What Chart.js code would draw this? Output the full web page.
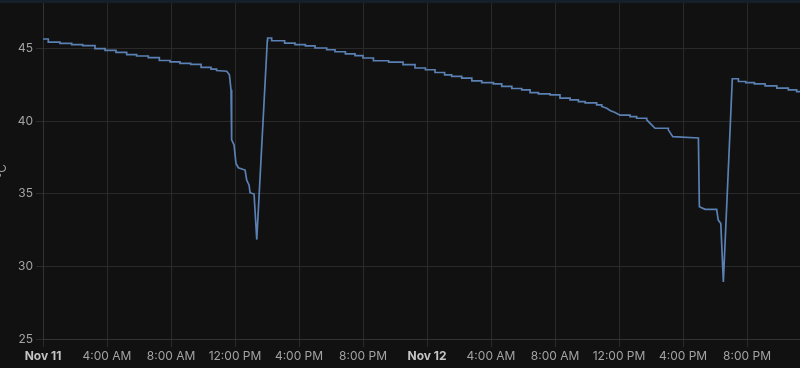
<!DOCTYPE html>
<html>
<head>
<meta charset="utf-8">
<script src="https://cdn.jsdelivr.net/npm/chart.js@4.4.1/dist/chart.umd.min.js"></script>
<style>
  html, body { margin: 0; padding: 0; background: #111111; overflow: hidden; }
  .topbar { height: 3px; background: #16202a; }
  .wrap { position: relative; width: 800px; height: 365px; }
</style>
</head>
<body>
<div class="topbar"></div>
<div class="wrap"><canvas id="tempChart"></canvas></div>
<script>
// -------------------------------
// DATA (hours since Nov 11 00:00, °C)
// -------------------------------
const hours = [
  0, 0.33, 0.33, 1.06, 1.06, 1.79, 1.79, 2.48, 2.48, 3.25, 3.25, 3.88, 3.88, 4.56, 4.56,
  5.23, 5.23, 5.85, 5.85, 6.58, 6.58, 7.27, 7.27, 7.94, 7.94, 8.56, 8.56, 9.23, 9.23,
  9.88, 9.88, 10.5, 10.5, 10.85, 10.85, 11.48,
  11.65, 11.75, 11.79, 11.94, 12.06, 12.21, 12.63, 12.73, 12.88, 12.94, 13.19, 13.36,
  14.02, 14.04, 14.29, 14.29, 15.1, 15.1, 15.75, 15.75, 16.4, 16.4, 17.0, 17.0,
  17.73, 17.73, 18.25, 18.25, 18.9, 18.9, 19.5, 19.5, 20.0, 20.0, 20.65, 20.65,
  21.6, 21.6, 22.5, 22.5, 23.25, 23.25, 23.9, 23.9, 24.5, 24.5, 25.1, 25.1,
  25.54, 25.54, 26.17, 26.17, 26.8, 26.8, 27.42, 27.42, 28.15, 28.15, 28.67, 28.67,
  29.3, 29.3, 29.92, 29.92, 30.44, 30.44, 30.96, 30.96, 31.69, 31.69, 32.31, 32.31,
  32.94, 32.94, 33.46, 33.46, 33.88, 33.88, 34.6, 34.6, 34.92, 34.92,
  35.23, 35.44, 35.75, 36.06, 36.69, 36.69, 37.1, 37.1, 37.73, 37.73, 38.04, 38.25,
  39.08, 39.08, 39.36, 40.96,
  41.02, 41.38, 42.1, 42.2, 42.36, 42.52,
  43.08, 43.46, 43.46, 43.92, 43.92, 44.46, 44.46, 45.13, 45.13, 45.86, 45.86,
  46.58, 46.58, 47.1, 47.1, 47.31
];

const temps = [
  45.67, 45.67, 45.46, 45.46, 45.37, 45.37, 45.28, 45.28, 45.21, 45.21, 45.0, 45.0, 44.88, 44.88, 44.75,
  44.75, 44.59, 44.59, 44.5, 44.5, 44.38, 44.38, 44.19, 44.19, 44.1, 44.1, 43.99, 43.99, 43.92,
  43.92, 43.71, 43.71, 43.6, 43.6, 43.5, 43.45,
  43.2, 42.17, 38.72, 38.37, 37.1, 36.8, 36.64, 35.95, 35.6, 35.08, 34.99, 31.85,
  45.57, 45.74, 45.74, 45.55, 45.55, 45.39, 45.39, 45.28, 45.28, 45.2, 45.2, 45.05,
  45.05, 44.93, 44.93, 44.79, 44.79, 44.65, 44.65, 44.52, 44.52, 44.36, 44.36, 44.17,
  44.17, 44.08, 44.08, 43.9, 43.9, 43.67, 43.67, 43.55, 43.55, 43.36, 43.36, 43.2,
  43.2, 43.09, 43.09, 42.98, 42.98, 42.79, 42.79, 42.67, 42.67, 42.58, 42.58, 42.4,
  42.4, 42.26, 42.26, 42.17, 42.17, 41.98, 41.98, 41.89, 41.89, 41.82, 41.82, 41.6,
  41.6, 41.48, 41.48, 41.36, 41.36, 41.27, 41.27, 41.13, 41.13, 41.02,
  40.9, 40.74, 40.6, 40.42, 40.42, 40.32, 40.32, 40.21, 40.21, 40.1, 39.75, 39.52,
  39.52, 39.41, 38.94, 38.85,
  34.11, 33.93, 33.93, 33.19, 32.96, 28.93,
  42.93, 42.93, 42.74, 42.74, 42.67, 42.67, 42.58, 42.58, 42.44, 42.44, 42.29,
  42.29, 42.17, 42.17, 42.05, 42.05
];

const xTickHours = [0, 4, 8, 12, 16, 20, 24, 28, 32, 36, 40, 44];
const xTickLabels = [
  "Nov 11", "4:00 AM", "8:00 AM", "12:00 PM", "4:00 PM", "8:00 PM",
  "Nov 12", "4:00 AM", "8:00 AM", "12:00 PM", "4:00 PM", "8:00 PM"
];
const yTicks = [25, 30, 35, 40, 45];

// -------------------------------
// CHART
// -------------------------------
const gridColor = "#2a2a2a";
const textColor = "#a3a3a3";

const ctx = document.getElementById("tempChart").getContext("2d");

new Chart(ctx, {
  type: "line",
  data: {
    datasets: [
      {
        label: "Temperature",
        data: hours.map((h, i) => ({ x: h, y: temps[i] })),
        borderColor: "#5a80b4",
        borderWidth: 1.7,
        pointRadius: 0,
        tension: 0,
        fill: false
      }
    ]
  },
  options: {
    responsive: true,
    maintainAspectRatio: false,
    animation: false,
    layout: { padding: 0 },
    plugins: {
      legend: { display: false },
      tooltip: { enabled: false }
    },
    scales: {
      x: {
        type: "linear",
        min: 0,
        max: 47.31,
        afterBuildTicks: (scale) => {
          scale.ticks = xTickHours.map((v) => ({ value: v }));
        },
        afterFit: (scale) => {
          scale.height = 29;
          scale.paddingLeft = 0;
          scale.paddingRight = 0;
        },
        grid: { color: gridColor, tickLength: 8, tickColor: gridColor },
        border: { color: "#333333" },
        ticks: {
          color: (c) => (c.tick && c.tick.value % 24 === 0 ? "#c4c4c4" : textColor),
          font: (c) => ({
            family: "Inter",
            size: 12,
            weight: c.tick && c.tick.value % 24 === 0 ? "bold" : "normal"
          }),
          padding: 2,
          maxRotation: 0,
          autoSkip: false,
          callback: (value, index) => xTickLabels[index]
        }
      },
      y: {
        min: 25,
        max: 48.15,
        afterBuildTicks: (scale) => {
          scale.ticks = yTicks.map((v) => ({ value: v }));
        },
        afterFit: (scale) => {
          scale.width = 43;
          scale.paddingTop = 0;
          scale.paddingBottom = 0;
        },
        grid: { color: gridColor, tickLength: 7, tickColor: gridColor },
        border: { color: "#333333" },
        title: {
          display: true,
          text: "°C",
          color: textColor,
          font: { family: "Inter", size: 12 },
          padding: { top: -5, bottom: 0 }
        },
        ticks: {
          color: textColor,
          font: { family: "Inter", size: 12 },
          padding: 3
        }
      }
    }
  }
});
</script>
</body>
</html>
